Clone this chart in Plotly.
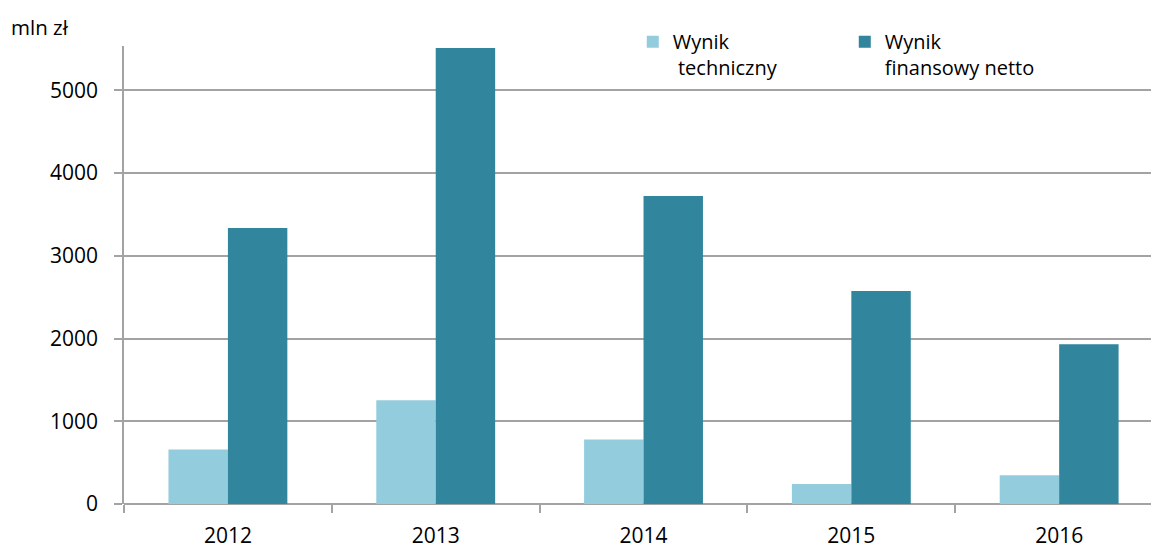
import plotly.graph_objects as go

years = ["2012", "2013", "2014", "2015", "2016"]
wynik_techniczny = [660, 1255, 780, 242, 347]
wynik_finansowy = [3335, 5510, 3722, 2574, 1932]
y_ticks = [0, 1000, 2000, 3000, 4000, 5000]

FONT = "Open Sans"
TXT = "#000000"
GRID = "#a3a3a3"

fig = go.Figure()
fig.add_trace(go.Bar(
    x=years, y=wynik_techniczny, name="Wynik<br>\u00a0techniczny",
    marker=dict(color="#93CDDD", line=dict(width=0)),
))
fig.add_trace(go.Bar(
    x=years, y=wynik_finansowy, name="Wynik<br>finansowy netto",
    marker=dict(color="#31859C", line=dict(width=0)),
))

fig.update_layout(
    width=1151, height=549,
    margin=dict(l=124, r=0, t=46, b=45),
    paper_bgcolor="white", plot_bgcolor="white",
    barmode="group", bargap=0.428, bargroupgap=0,
    font=dict(family=FONT, size=20, color=TXT),
    showlegend=True,
    legend=dict(
        orientation="h", x=0.4954, xanchor="left", y=1.052, yanchor="top",
        valign="top", font=dict(family=FONT, size=20, color=TXT),
        entrywidth=167, entrywidthmode="pixels",
        bgcolor="rgba(0,0,0,0)", itemsizing="constant",
    ),
    annotations=[dict(
        text="mln zł", xref="paper", yref="paper",
        x=-0.112, y=1.042, xanchor="left", yanchor="middle",
        showarrow=False, font=dict(family=FONT, size=20.5, color=TXT),
    )],
)

fig.update_xaxes(
    type="category", range=[-0.5, 4.442],
    showgrid=False, showline=False, zeroline=False,
    ticks="outside", tickson="boundaries", ticklen=8, tickwidth=1.5,
    tickcolor=GRID, ticklabelstandoff=17,
    tickfont=dict(family=FONT, size=21, color=TXT),
)
fig.update_yaxes(
    range=[0, 5535], tickvals=y_ticks,
    showgrid=True, gridcolor=GRID, gridwidth=1.5,
    zeroline=True, zerolinecolor=GRID, zerolinewidth=1.5,
    showline=True, linecolor=GRID, linewidth=1.5,
    ticks="outside", ticklen=8, tickwidth=1.5, tickcolor=GRID,
    ticklabelstandoff=12,
    tickfont=dict(family=FONT, size=21, color=TXT),
)

fig.write_html(
    "out.html",
    config={"displayModeBar": False},
    post_script=(
        "document.body.style.margin='0px';"
        "document.body.style.overflow='hidden';"
        "document.documentElement.style.overflow='hidden';"
    ),
)
